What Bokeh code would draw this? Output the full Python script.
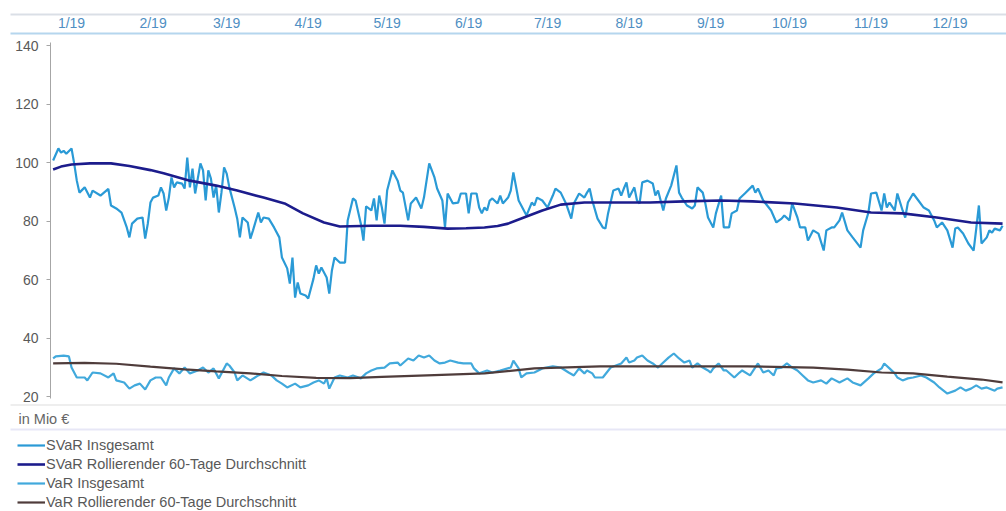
from datetime import date

from bokeh.embed import file_html
from bokeh.models import FixedTicker, Label, Legend, LegendItem, PolyAnnotation, Range1d
from bokeh.plotting import figure
from bokeh.resources import INLINE

# ---------------------------------------------------------------------------
# Data (x = day of year 2019, 0 = 1 January; values in Mio EUR)
# ---------------------------------------------------------------------------
svar_days = [
    1, 3, 4, 5, 6, 8, 9, 10, 11, 13, 15, 16, 19, 22, 23, 25, 27, 29, 30, 31,
    33, 35, 36, 37, 38, 39, 41, 42, 43, 44, 45, 46, 47, 48, 50, 51, 52, 53, 54, 55,
    56, 57, 58, 59, 60, 61, 62, 63, 64, 65, 66, 67, 68, 70, 71, 72, 73, 75, 76, 77,
    79, 80, 81, 83, 85, 87, 88, 90, 91, 92, 93, 94, 95, 97, 98, 100, 101, 102, 103, 105,
    106, 107, 108, 110, 112, 113, 115, 116, 118, 119, 120, 122, 123, 124, 125, 126, 127, 128, 130, 132,
    133, 134, 136, 137, 139, 141, 142, 144, 146, 147, 149, 150, 151, 153, 155, 156, 158, 159, 160, 162,
    163, 164, 165, 166, 167, 168, 170, 171, 172, 174, 175, 176, 178, 179, 180, 181, 183, 184, 185, 187,
    189, 191, 192, 194, 196, 198, 199, 201, 203, 204, 205, 206, 208, 210, 211, 212, 214, 216, 217, 218,
    219, 220, 222, 223, 224, 225, 227, 229, 230, 231, 233, 234, 236, 238, 239, 240, 242, 244, 245, 246,
    248, 249, 250, 252, 253, 255, 256, 258, 259, 261, 262, 264, 267, 268, 269, 271, 274, 276, 278, 279,
    281, 282, 284, 285, 287, 288, 290, 292, 294, 295, 297, 298, 300, 301, 303, 305, 308, 309, 311, 312,
    314, 316, 317, 318, 319, 321, 322, 324, 325, 326, 328, 330, 332, 334, 336, 337, 339, 341, 343, 344,
    345, 347, 349, 351, 352, 353, 354, 356, 357, 358, 359, 361, 362,
]
svar_values = [
    100.7, 104.8, 103.4, 104.0, 103.0, 104.8, 99.7, 93.8, 89.7, 91.5, 88.0, 90.4, 88.7, 91.0, 85.3, 84.3, 82.9, 77.8, 74.4, 79.1,
    80.8, 81.2, 74.0, 79.1, 86.3, 88.0, 88.7, 91.5, 89.4, 83.6, 88.0, 94.9, 91.5, 93.2, 92.8, 91.1, 101.7, 91.5, 97.9, 89.4,
    94.5, 99.7, 97.3, 87.0, 97.3, 94.5, 88.0, 92.1, 82.9, 89.7, 98.3, 96.2, 91.5, 84.6, 80.8, 74.4, 81.2, 79.5, 74.0, 76.8,
    82.9, 79.5, 81.2, 80.8, 77.8, 74.4, 67.5, 63.8, 58.6, 67.5, 53.8, 59.0, 55.2, 54.5, 53.5, 60.3, 64.8, 62.0, 64.1, 60.7,
    55.2, 63.1, 67.5, 65.8, 65.8, 80.2, 87.7, 87.0, 79.1, 73.3, 85.0, 83.6, 87.7, 80.2, 88.7, 84.6, 79.1, 90.4, 97.3, 93.8,
    90.4, 89.7, 80.2, 86.0, 88.0, 84.3, 88.0, 99.7, 94.9, 91.1, 87.0, 77.8, 89.4, 86.0, 86.3, 89.4, 89.4, 82.6, 89.4, 89.4,
    84.6, 82.6, 84.6, 83.6, 87.0, 87.7, 86.0, 88.7, 86.0, 88.0, 90.4, 96.6, 87.0, 85.3, 83.6, 81.9, 86.3, 85.3, 88.0, 87.0,
    84.6, 88.7, 91.1, 89.7, 86.0, 80.8, 86.0, 89.4, 88.0, 89.7, 91.1, 87.0, 80.8, 77.8, 77.4, 82.6, 90.4, 91.1, 88.7, 91.1,
    93.2, 88.0, 91.5, 87.0, 86.0, 93.2, 93.8, 92.8, 88.7, 90.4, 83.6, 87.7, 92.1, 99.0, 89.7, 88.0, 85.3, 84.3, 85.3, 91.5,
    89.7, 86.0, 81.2, 77.8, 82.6, 88.7, 77.8, 77.8, 82.6, 83.6, 87.7, 89.4, 92.1, 89.7, 91.1, 87.0, 83.6, 79.5, 80.8, 81.9,
    80.2, 86.0, 81.2, 77.8, 77.8, 73.3, 76.8, 75.7, 69.9, 76.8, 77.8, 77.8, 80.2, 82.9, 76.8, 74.4, 70.9, 76.8, 82.9, 89.4,
    89.7, 83.6, 89.4, 84.6, 86.3, 83.6, 89.4, 83.6, 81.2, 86.3, 89.4, 87.0, 84.6, 83.6, 80.2, 77.8, 79.5, 76.8, 70.9, 77.4,
    77.8, 75.7, 72.3, 69.9, 77.4, 85.3, 72.3, 74.4, 76.8, 76.0, 77.4, 76.8, 78.4,
]

svar_avg_days = [
    1, 4, 8, 15, 23, 30, 38, 43, 53, 63, 71, 81, 89, 96, 104, 110, 122, 133, 142, 151,
    158, 165, 170, 174, 180, 187, 194, 203, 216, 228, 241, 255, 267, 283, 299, 312, 324, 337, 350, 362,
]
svar_avg_values = [
    97.6, 98.6, 99.3, 99.7, 99.7, 98.8, 97.4, 96.3, 93.8, 92.1, 90.4, 88.0, 86.0, 82.6, 79.5, 78.1, 78.4, 78.4, 78.0, 77.4,
    77.5, 77.8, 78.3, 79.1, 81.2, 83.6, 85.6, 86.3, 86.3, 86.3, 86.7, 87.0, 86.7, 86.0, 84.6, 82.9, 82.6, 81.2, 79.5, 79.1,
]

var_days = [
    1, 2, 5, 7, 8, 10, 13, 14, 16, 19, 22, 24, 25, 28, 30, 32, 34, 36, 38, 40,
    42, 44, 45, 47, 49, 51, 53, 56, 58, 60, 62, 64, 67, 68, 70, 71, 73, 76, 79, 81,
    84, 86, 88, 90, 93, 95, 98, 100, 102, 104, 105, 106, 108, 110, 113, 115, 118, 120, 122, 124,
    127, 129, 132, 133, 136, 138, 140, 142, 144, 146, 148, 150, 152, 155, 157, 160, 161, 163, 166, 168,
    171, 175, 176, 178, 179, 181, 184, 187, 191, 194, 197, 199, 201, 203, 204, 206, 207, 210, 213, 215,
    217, 219, 220, 222, 223, 225, 227, 229, 231, 233, 235, 237, 239, 241, 243, 244, 246, 248, 250, 251,
    252, 254, 256, 257, 260, 262, 263, 266, 269, 271, 273, 275, 276, 278, 280, 282, 284, 286, 288, 290,
    293, 295, 297, 300, 303, 305, 308, 311, 313, 316, 317, 319, 321, 322, 324, 326, 328, 331, 333, 336,
    338, 341, 344, 346, 348, 350, 352, 354, 356, 359, 360, 362,
]
var_values = [
    33.0, 33.7, 34.0, 33.7, 29.9, 26.5, 26.5, 25.5, 28.2, 27.9, 26.5, 27.9, 25.5, 24.8, 22.7, 23.8, 24.4, 22.4, 25.5, 26.5,
    26.5, 23.8, 26.5, 29.6, 27.9, 29.9, 27.9, 28.9, 29.9, 28.2, 29.6, 26.2, 31.3, 30.6, 28.2, 25.5, 27.2, 25.5, 27.2, 28.2,
    27.2, 25.5, 24.4, 23.1, 24.4, 23.1, 23.8, 24.8, 25.5, 24.4, 26.2, 22.7, 26.5, 27.2, 26.5, 27.2, 26.2, 27.9, 28.9, 29.6,
    29.9, 31.3, 31.6, 30.6, 33.0, 32.3, 34.0, 33.3, 34.0, 32.3, 31.3, 31.6, 32.3, 31.6, 31.3, 31.3, 29.6, 27.9, 28.9, 28.2,
    28.9, 29.9, 32.3, 29.6, 26.5, 27.9, 28.2, 29.6, 30.3, 29.9, 28.2, 27.2, 29.6, 27.9, 28.9, 27.9, 26.5, 26.5, 29.9, 30.6,
    31.3, 33.3, 31.6, 32.3, 33.3, 34.0, 32.3, 31.3, 29.9, 31.6, 33.3, 34.7, 33.0, 31.6, 32.3, 29.9, 31.3, 29.9, 28.9, 28.2,
    29.6, 31.3, 28.9, 28.9, 26.5, 28.2, 28.9, 27.2, 31.3, 28.2, 28.9, 27.2, 29.6, 29.9, 31.3, 29.9, 28.9, 27.2, 25.5, 24.8,
    25.5, 24.4, 26.2, 24.8, 26.2, 24.8, 23.8, 26.2, 27.9, 29.6, 31.3, 29.6, 27.9, 26.5, 25.5, 26.2, 26.5, 27.2, 26.5, 24.8,
    23.1, 21.0, 22.0, 23.1, 22.0, 22.7, 23.8, 22.7, 23.1, 22.0, 22.7, 23.1,
]

var_avg_days = [
    1, 13, 25, 38, 51, 63, 76, 88, 101, 114, 126, 146, 165, 184, 209, 240, 265, 290, 303, 316,
    328, 341, 354, 362,
]
var_avg_values = [
    31.3, 31.5, 31.2, 30.2, 29.3, 28.6, 27.9, 27.0, 26.4, 26.3, 26.7, 27.3, 27.9, 29.6, 30.3, 30.3, 30.3, 29.9, 29.2, 28.2,
    27.9, 26.8, 25.8, 24.8,
]

month_labels = ["1/19", "2/19", "3/19", "4/19", "5/19", "6/19",
                "7/19", "8/19", "9/19", "10/19", "11/19", "12/19"]
y_ticks = [20, 40, 60, 80, 100, 120, 140]
unit_label = "in Mio €"
legend_labels = [
    "SVaR Insgesamt",
    "SVaR Rollierender 60-Tage Durchschnitt",
    "VaR Insgesamt",
    "VaR Rollierender 60-Tage Durchschnitt",
]
series_colors = ["#2a9ad6", "#1c1c8c", "#41a9dc", "#4f3c3b"]
series_widths = [2.2, 2.6, 2.2, 2.2]

# ---------------------------------------------------------------------------
# Page geometry (pixels). The plot frame fills the whole canvas; the axes are
# pinned inside it so that the header and footer can be drawn in data space.
# ---------------------------------------------------------------------------
FONT = "Liberation Sans"
TEXT_GREY = "#595959"
W, H = 1006, 511
AXIS_PX = 50                 # page x of day 0 (value axis line)
X_END = 363.5                # day at the right page edge
Y20_PX, PX_PER_UNIT = 396, 2.925

px_per_day = (W - AXIS_PX) / X_END


def day_at(px):
    return (px - AXIS_PX) / px_per_day


def value_at(py):
    return 20 + (Y20_PX - py) / PX_PER_UNIT


p = figure(
    width=W, height=H,
    x_range=Range1d(day_at(0), day_at(W)), y_range=Range1d(value_at(H), value_at(0)),
    x_axis_location="above",
    toolbar_location=None, output_backend="svg",
    min_border=0,
)
p.grid.visible = False
p.outline_line_color = None
p.background_fill_color = "white"
p.border_fill_color = "white"

# Month labels in the header band; the axis line is the light-blue rule below them
month_start = [(date(2019, m, 1) - date(2019, 1, 1)).days for m in range(1, 13)]
label_ticks = [d + 8 for d in month_start]
xa = p.xaxis[0]
xa.fixed_location = value_at(33)
xa.bounds = (day_at(10), day_at(W))
xa.ticker = FixedTicker(ticks=label_ticks)
xa.major_label_overrides = {t: lab for t, lab in zip(label_ticks, month_labels)}
xa.axis_line_color = "#b5d6ee"
xa.axis_line_width = 2
xa.major_tick_line_color = None
xa.minor_tick_line_color = None
xa.major_tick_out = 0
xa.major_tick_in = 0
xa.major_label_standoff = 3
xa.major_label_text_font = FONT
xa.major_label_text_font_size = "14px"
xa.major_label_text_color = "#4f8fc3"

# Value axis at day 0
ya = p.yaxis[0]
ya.fixed_location = 0
ya.bounds = (value_at(398), value_at(42))
ya.ticker = FixedTicker(ticks=y_ticks)
ya.minor_tick_line_color = None
ya.major_tick_in = 0
ya.major_tick_out = 4
ya.major_tick_line_color = "#a6a6a6"
ya.axis_line_color = "#a6a6a6"
ya.major_label_standoff = 8
ya.major_label_text_font = FONT
ya.major_label_text_font_size = "14px"
ya.major_label_text_color = TEXT_GREY

# Series
r_var = p.line(var_days, var_values, line_color=series_colors[2], line_width=series_widths[2])
r_var_avg = p.line(var_avg_days, var_avg_values, line_color=series_colors[3], line_width=series_widths[3])
r_svar = p.line(svar_days, svar_values, line_color=series_colors[0], line_width=series_widths[0])
r_svar_avg = p.line(svar_avg_days, svar_avg_values, line_color=series_colors[1], line_width=series_widths[1])

# Rules above the header and around the unit note
for py, color in [(14, "#8494ad"), (404.5, "#c8c8c8"), (429, "#b0b0e0")]:
    p.add_layout(PolyAnnotation(
        xs=[day_at(10), day_at(W)], ys=[value_at(py), value_at(py)],
        line_color=color, line_width=2, fill_alpha=0,
    ))

p.add_layout(Label(
    x=day_at(18), y=value_at(418), text=unit_label,
    text_font=FONT, text_font_size="14.5px", text_color="#666666",
    text_baseline="middle", text_align="left",
))

legend = Legend(
    items=[LegendItem(label=lab, renderers=[r]) for lab, r in
           zip(legend_labels, [r_svar, r_svar_avg, r_var, r_var_avg])],
    location=(17, 1),
    orientation="vertical",
    glyph_width=28, glyph_height=14, label_height=14,
    label_standoff=1, spacing=3, padding=0, margin=0,
    label_text_font=FONT, label_text_font_size="14.5px", label_text_color=TEXT_GREY,
    border_line_color=None, background_fill_alpha=0,
)
p.add_layout(legend)

open("out.html", "w").write(file_html(p, INLINE))
